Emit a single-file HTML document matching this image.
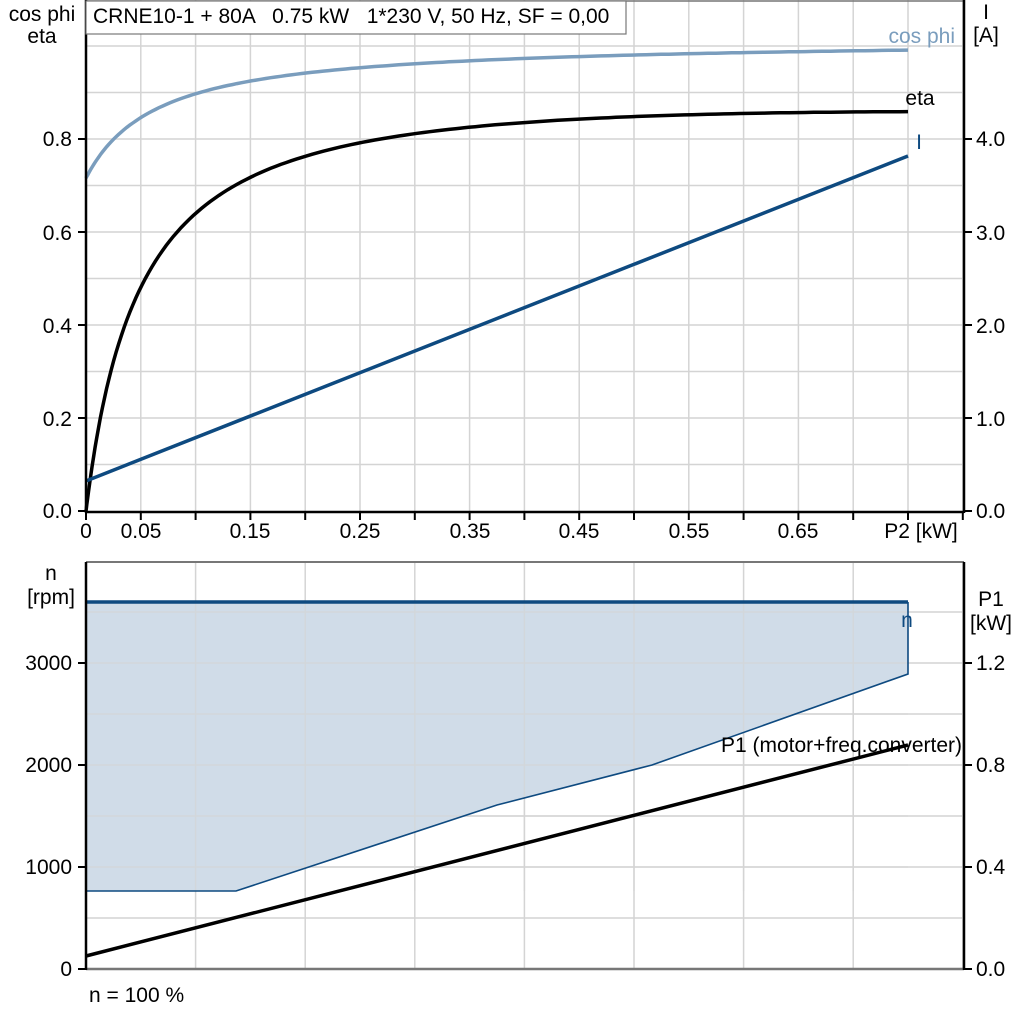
<!DOCTYPE html>
<html><head><meta charset="utf-8"><style>
html,body{margin:0;padding:0;background:#fff}
svg{display:block;font-family:"Liberation Sans",Arial,sans-serif;font-size:21px}
</style></head><body>
<svg id="s" width="1024" height="1024" viewBox="0 0 1024 1024" xmlns="http://www.w3.org/2000/svg">
<rect width="1024" height="1024" fill="#fff"/>
<g id="grid" stroke="#d4d4d4" stroke-width="1.5"></g>
<polygon points="86,602 908,602 908,674 652,765 497,805 236,891 86,891" fill="#d0dce8"/>
<g id="grid2" stroke="#d4d4d4" stroke-width="1.5" opacity="0.6"></g>
<polyline points="908,602 908,674 652,765 497,805 236,891 86,891" fill="none" stroke="#0e4a80" stroke-width="1.6"/>
<line x1="86" y1="602" x2="908" y2="602" stroke="#0e4a80" stroke-width="3.5"/>
<line x1="86" y1="956" x2="908" y2="745" stroke="#000" stroke-width="3.5"/>
<path id="cos" fill="none" stroke="#7a9dbd" stroke-width="3.5"/>
<path id="eta" fill="none" stroke="#000" stroke-width="3.5"/>
<line x1="86" y1="481" x2="908" y2="156" stroke="#0e4a80" stroke-width="3.5"/>
<line x1="86" y1="1" x2="964" y2="1" stroke="#777" stroke-width="1.5"/>
<line x1="86" y1="562" x2="964" y2="562" stroke="#777" stroke-width="2"/>
<line x1="86" y1="969" x2="964" y2="969" stroke="#777" stroke-width="2.5"/>
<line x1="86" y1="512" x2="964" y2="512" stroke="#000" stroke-width="2.5"/>
<line x1="86" y1="0" x2="86" y2="513" stroke="#000" stroke-width="2.5"/>
<line x1="964" y1="0" x2="964" y2="513" stroke="#000" stroke-width="2.5"/>
<line x1="86" y1="562" x2="86" y2="970" stroke="#000" stroke-width="2.5"/>
<line x1="964" y1="562" x2="964" y2="970" stroke="#000" stroke-width="2.5"/>
<g id="ticks" stroke="#000" stroke-width="2"></g>
<rect x="86" y="1" width="540" height="33" fill="#fff" stroke="#777" stroke-width="1.2"/>
<text x="93" y="23" xml:space="preserve">CRNE10-1 + 80A   0.75 kW   1*230 V, 50 Hz, SF = 0,00</text>
<text x="42" y="21" text-anchor="middle">cos phi</text>
<text x="42" y="43" text-anchor="middle">eta</text>
<text x="986" y="19" text-anchor="middle">I</text>
<text x="986" y="42" text-anchor="middle">[A]</text>
<g text-anchor="end">
<text x="72" y="146">0.8</text><text x="72" y="240">0.6</text><text x="72" y="333">0.4</text><text x="72" y="426">0.2</text><text x="72" y="518">0.0</text>
</g>
<g>
<text x="976" y="146">4.0</text><text x="976" y="240">3.0</text><text x="976" y="333">2.0</text><text x="976" y="426">1.0</text><text x="976" y="518">0.0</text>
</g>
<g text-anchor="middle">
<text x="86" y="538">0</text><text x="141" y="538">0.05</text><text x="250" y="538">0.15</text><text x="360" y="538">0.25</text><text x="470" y="538">0.35</text><text x="579" y="538">0.45</text><text x="689" y="538">0.55</text><text x="798" y="538">0.65</text><text x="921" y="538">P2 [kW]</text>
</g>
<text x="955" y="43" text-anchor="end" fill="#7a9dbd">cos phi</text>
<text x="920" y="105" text-anchor="middle">eta</text>
<text x="919" y="149" text-anchor="middle" fill="#0e4a80">I</text>
<text x="51" y="580" text-anchor="middle">n</text>
<text x="51" y="604" text-anchor="middle">[rpm]</text>
<text x="991" y="606" text-anchor="middle">P1</text>
<text x="991" y="630" text-anchor="middle">[kW]</text>
<g text-anchor="end">
<text x="72" y="670">3000</text><text x="72" y="772">2000</text><text x="72" y="874">1000</text><text x="72" y="976">0</text>
</g>
<g>
<text x="976" y="670">1.2</text><text x="976" y="772">0.8</text><text x="976" y="874">0.4</text><text x="976" y="976">0.0</text>
</g>
<text x="907" y="627" text-anchor="middle" fill="#0e4a80">n</text>
<text x="962" y="752" text-anchor="end">P1 (motor+freq.converter)</text>
<text x="89" y="1002">n = 100 %</text>
</svg>
<script>
(function(){
var NS="http://www.w3.org/2000/svg";
function ln(g,x1,y1,x2,y2){var l=document.createElementNS(NS,"line");l.setAttribute("x1",x1);l.setAttribute("y1",y1);l.setAttribute("x2",x2);l.setAttribute("y2",y2);document.getElementById(g).appendChild(l);}
var px=1096.0;
for(var i=1;i<=16;i++){var x=86+i*0.05*px; if(x<963) ln("grid",x,0,x,511);}
for(var j=1;j<=10;j++){var y=511-j*46.5; if(y>0) ln("grid",86,y,963,y);}
for(var i=1;i<=8;i++){var x=86+i*0.1*px; ln("grid",x,562,x,968);}
for(var j=1;j<=7;j++){var y=969-j*51; if(y>562) ln("grid",86,y,963,y);}
for(var i=1;i<=8;i++){var x=86+i*0.1*px; ln("grid2",x,602,x,891);}
for(var j=1;j<=7;j++){var y=969-j*51; if(y>602&&y<891) ln("grid2",86,y,908,y);}
for(var i=0;i<=16;i++){var x=86+i*0.05*px; if(x<963) ln("ticks",x,512,x,520);}
[139,232,325,418,511].forEach(function(y){ln("ticks",78,y,86,y);ln("ticks",964,y,972,y);});
[969,867,765,663].forEach(function(y){ln("ticks",78,y,86,y);ln("ticks",964,y,972,y);});
function Y(v){return 511-v*465;}
var c="",e="";
for(var k=0;k<=150;k++){var P=0.75*Math.pow(k/150,1.6);var x=86+P*px;
 var cv=1.015-0.299*0.065/(P+0.065);
 var ev=P/(P+0.052+0.035*P+0.08*P*P);
 c+=(k?"L":"M")+x.toFixed(1)+","+Y(cv).toFixed(1);
 e+=(k?"L":"M")+x.toFixed(1)+","+Y(ev).toFixed(1);}
document.getElementById("cos").setAttribute("d",c);
document.getElementById("eta").setAttribute("d",e);
})();
</script>
</body></html>
